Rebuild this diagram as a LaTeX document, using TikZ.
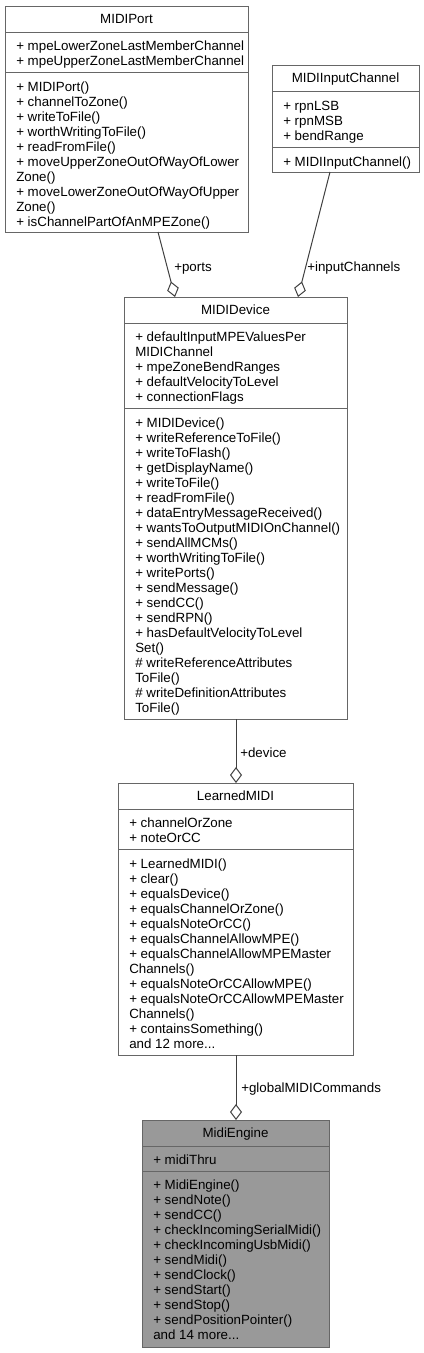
\documentclass[tikz,border=0pt]{standalone}
\usepackage{fontspec}
\setmainfont{Liberation Sans}
\usetikzlibrary{arrows.meta,calc}
\definecolor{boxc}{HTML}{666666}
\definecolor{edgec}{HTML}{404040}
\definecolor{hlfill}{HTML}{999999}
\newcommand\mydots{...}
\tikzset{
  cls/.style={draw=boxc, line width=0.75pt, inner sep=0pt, outer sep=0pt, anchor=north west},
  sep/.style={draw=boxc, line width=0.75pt},
  txt/.style={inner sep=0pt, font=\fontsize{10}{12}\selectfont, text=black},
  mem/.style={txt, anchor=base west},
  head/.style={txt, anchor=base},
  lab/.style={txt, anchor=base west},
  assoc/.style={draw=edgec, line width=0.75pt, -{Diamond[open,length=12pt,width=9pt]}},
}
\newcommand\mylines[4]{% name, x, first center y, list
  \foreach \t [count=\i from 0] in {#4} {
    \node[mem] (#1-\i) at (#2,#3+15*\i+4) {\t};
  }
}
\begin{document}
\begin{tikzpicture}[x=0.75pt,y=-0.75pt]
\useasboundingbox (0,0) rectangle (424,1353);

% MIDIPort
\node[cls, fill=white, minimum width=182.25pt, minimum height=169.5pt] (port) at (5,6) {};
\draw[sep] (5,32) -- (248,32);
\draw[sep] (5,72) -- (248,72);
\node[head] (port-h) at (126.5,23) {MIDIPort};
\mylines{porta}{16}{46}{+ mpeLowerZoneLastMemberChannel,+ mpeUpperZoneLastMemberChannel}
\mylines{portm}{16}{87}{+ MIDIPort(),+ channelToZone(),+ writeToFile(),+ worthWritingToFile(),+ readFromFile(),+ moveUpperZoneOutOfWayOfLower,Zone(),+ moveLowerZoneOutOfWayOfUpper,Zone(),+ isChannelPartOfAnMPEZone()}

% MIDIInputChannel
\node[cls, fill=white, minimum width=110.25pt, minimum height=80.25pt] (ic) at (272,65) {};
\draw[sep] (272,91) -- (419,91);
\draw[sep] (272,147) -- (419,147);
\node[head] (ic-h) at (345.5,82) {MIDIInputChannel};
\mylines{ica}{283}{106}{+ rpnLSB,+ rpnMSB,+ bendRange}
\mylines{icm}{283}{162}{+ MIDIInputChannel()}

% MIDIDevice
\node[cls, fill=white, minimum width=167.25pt, minimum height=316.5pt] (dev) at (124,297) {};
\draw[sep] (124,323) -- (347,323);
\draw[sep] (124,408) -- (347,408);
\node[head] (dev-h) at (235.5,314) {MIDIDevice};
\mylines{deva}{135}{337}{+ defaultInputMPEValuesPer,MIDIChannel,+ mpeZoneBendRanges,+ defaultVelocityToLevel,+ connectionFlags}
\mylines{devm}{135}{423}{+ MIDIDevice(),+ writeReferenceToFile(),+ writeToFlash(),+ getDisplayName(),+ writeToFile(),+ readFromFile(),+ dataEntryMessageReceived(),+ wantsToOutputMIDIOnChannel(),+ sendAllMCMs(),+ worthWritingToFile(),+ writePorts(),+ sendMessage(),+ sendCC(),+ sendRPN(),+ hasDefaultVelocityToLevel,Set(),\# writeReferenceAttributes,ToFile(),\# writeDefinitionAttributes,ToFile()}

% LearnedMIDI
\node[cls, fill=white, minimum width=176.25pt, minimum height=204pt] (lm) at (118,783) {};
\draw[sep] (118,809) -- (353,809);
\draw[sep] (118,849) -- (353,849);
\node[head] (lm-h) at (235.5,800) {LearnedMIDI};
\mylines{lma}{129}{823}{+ channelOrZone,+ noteOrCC}
\mylines{lmm}{129}{864}{+ LearnedMIDI(),+ clear(),+ equalsDevice(),+ equalsChannelOrZone(),+ equalsNoteOrCC(),+ equalsChannelAllowMPE(),+ equalsChannelAllowMPEMaster,Channels(),+ equalsNoteOrCCAllowMPE(),+ equalsNoteOrCCAllowMPEMaster,Channels(),+ containsSomething(),and 12 more\mydots}

% MidiEngine
\node[cls, fill=hlfill, minimum width=140.25pt, minimum height=170.25pt] (me) at (142,1120) {};
\draw[sep] (142,1146) -- (329,1146);
\draw[sep] (142,1171) -- (329,1171);
\node[head] (me-h) at (235.5,1137) {MidiEngine};
\mylines{mea}{153}{1160}{+ midiThru}
\mylines{mem}{153}{1185}{+ MidiEngine(),+ sendNote(),+ sendCC(),+ checkIncomingSerialMidi(),+ checkIncomingUsbMidi(),+ sendMidi(),+ sendClock(),+ sendStart(),+ sendStop(),+ sendPositionPointer(),and 14 more\mydots}

% connectors
\draw[assoc] ($(port.south west)+(153,0)$) -- ($(dev.north west)+(51,0)$);
\draw[assoc] ($(ic.south west)+(58,0)$) -- ($(dev.north west)+(174,0)$);
\draw[assoc] ($(dev.south west)+(112,0)$) -- ($(lm.north west)+(118,0)$);
\draw[assoc] ($(lm.south west)+(118,0)$) -- ($(me.north west)+(94,0)$);

\node[lab] (l-ports) at (174,271) {+ports};
\node[lab] (l-ic) at (307,271) {+inputChannels};
\node[lab] (l-dev) at (240,757) {+device};
\node[lab] (l-gmc) at (241,1092) {+globalMIDICommands};
\end{tikzpicture}
\end{document}
